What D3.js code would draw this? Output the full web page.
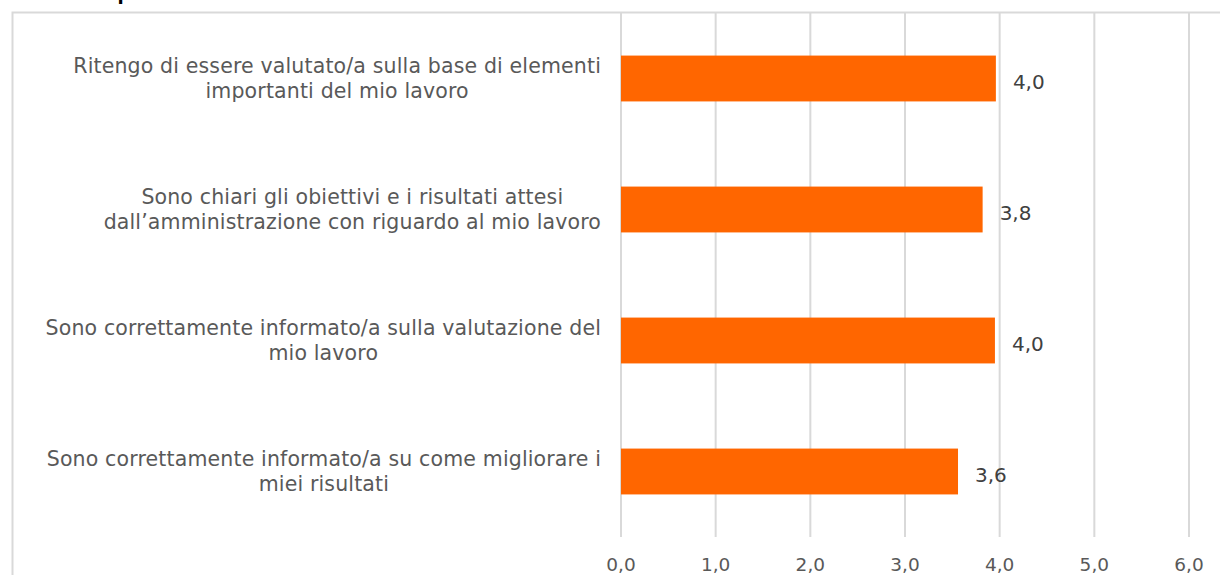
<!DOCTYPE html>
<meta charset="utf-8">
<style>
    body { margin: 0; background: #fff; }
    .catLabel { font: 20.5px "DejaVu Sans", sans-serif; fill: #595959; letter-spacing: 0.15px; }
    .tickLabel { font: 18.5px "DejaVu Sans", sans-serif; fill: #595959; }
    .valueLabel { font: 20px "DejaVu Sans", sans-serif; fill: #404040; }
    .title { font: bold 18px "DejaVu Sans", sans-serif; fill: #000; }
</style>
<body>
<script src="https://d3js.org/d3.v7.min.js"></script>
<script>
    // data
    let categories = [
        "Ritengo di essere valutato/a sulla base di elementi importanti del mio lavoro",
        "Sono chiari gli obiettivi e i risultati attesi dall\u2019amministrazione con riguardo al mio lavoro",
        "Sono correttamente informato/a sulla valutazione del mio lavoro",
        "Sono correttamente informato/a su come migliorare i miei risultati"
    ];
    let values = [3.96, 3.82, 3.95, 3.56];
    let tickValues = [0, 1, 2, 3, 4, 5, 6];

    let width = 1220;
    let height = 575;

    let svg = d3.select("body").append("svg")
        .attr("width", width)
        .attr("height", height);

    // title, mostly cut off by the top edge
    svg.append("text").attr("class", "title")
        .attr("x", 12)
        .attr("y", 0)
        .text("F - La mia performance");

    // chart frame (runs off right and bottom)
    svg.append("rect")
        .attr("x", 12.5).attr("y", 12.5)
        .attr("width", 1230).attr("height", 600)
        .attr("fill", "none")
        .attr("stroke", "#d9d9d9")
        .attr("stroke-width", 2);

    let x = d3.scaleLinear()
        .domain([0, 6])
        .range([621, 1189]);

    let y = d3.scaleBand()
        .domain(categories)
        .range([13, 537])
        .paddingInner(0.65)
        .paddingOuter(0.325);

    let fmt = v => d3.format(".1f")(v).replace(".", ",");

    // gridlines
    svg.append("g").selectAll("line")
        .data(tickValues)
        .join("line")
            .attr("x1", d => x(d)).attr("x2", d => x(d))
            .attr("y1", 13).attr("y2", 537)
            .attr("stroke", "#d9d9d9")
            .attr("stroke-width", 2);

    // tick labels
    svg.append("g").selectAll("text")
        .data(tickValues)
        .join("text")
            .attr("class", "tickLabel")
            .attr("x", d => x(d))
            .attr("y", 571)
            .attr("text-anchor", "middle")
            .text(d => fmt(d));

    // bars
    svg.append("g").selectAll("rect")
        .data(values)
        .join("rect")
            .attr("x", x(0))
            .attr("y", (d, i) => y(categories[i]))
            .attr("width", d => x(d) - x(0))
            .attr("height", y.bandwidth())
            .attr("fill", "#ff6600");

    // value labels
    svg.append("g").selectAll("text")
        .data(values)
        .join("text")
            .attr("class", "valueLabel")
            .attr("x", d => x(d) + 17)
            .attr("y", (d, i) => y(categories[i]) + y.bandwidth() / 2 + 3)
            .attr("dy", "0.35em")
            .text(d => fmt(d));

    // category labels: wrapped, block pushed against the axis, lines centred in the block
    let wrapWidth = 565;
    let labelRight = 601;
    let lineHeight = 25;

    let labels = svg.append("g").selectAll("text")
        .data(categories)
        .join("text")
            .attr("class", "catLabel")
            .attr("text-anchor", "middle");

    labels.each(function(d) {
        let text = d3.select(this);
        let words = d.split(" ");
        let lines = [];
        let line = [];
        let probe = text.append("tspan");
        words.forEach(function(w) {
            line.push(w);
            probe.text(line.join(" "));
            if (probe.node().getComputedTextLength() > wrapWidth && line.length > 1) {
                line.pop();
                lines.push(line.join(" "));
                line = [w];
            }
        });
        lines.push(line.join(" "));

        let blockWidth = d3.max(lines, function(l) {
            probe.text(l);
            return probe.node().getComputedTextLength();
        });
        probe.remove();

        let cx = labelRight - blockWidth / 2;
        let cy = y(d) + y.bandwidth() / 2;
        let top = cy - (lines.length - 1) * lineHeight / 2;
        lines.forEach(function(l, i) {
            text.append("tspan")
                .attr("x", cx)
                .attr("y", top + i * lineHeight)
                .attr("dy", "0.35em")
                .text(l);
        });
    });
</script>
</body>
